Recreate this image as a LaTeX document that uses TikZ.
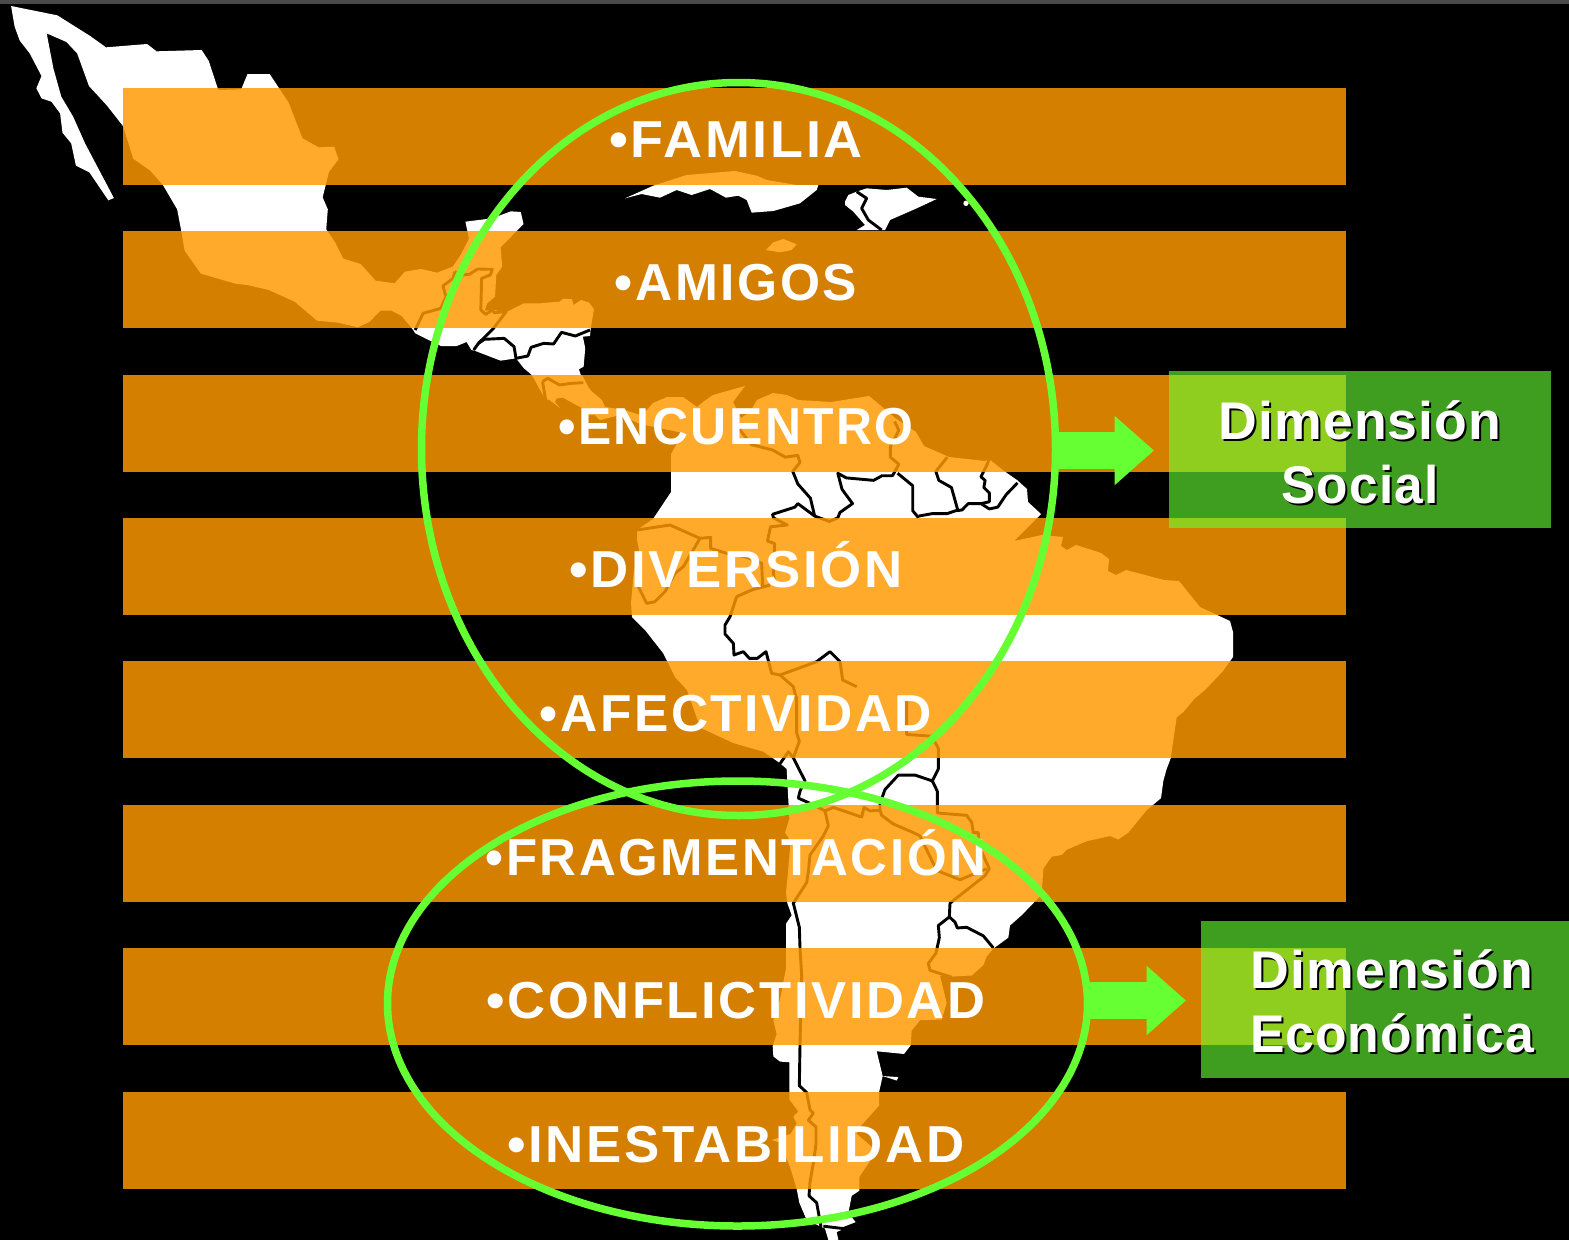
\documentclass[tikz,border=0pt]{standalone}
\usepackage{fontspec}
\usetikzlibrary{shapes.geometric,arrows.meta}
\newfontfamily\listfont{Liberation Sans}[LetterSpace=5.0]
\newfontfamily\dimfont{Liberation Sans}[LetterSpace=2.0]
\definecolor{baror}{HTML}{FF9900}
\definecolor{vivid}{HTML}{66FF33}
\definecolor{strip}{HTML}{4A4A4A}
\newcommand{\itemtext}[2]{\scalebox{#1}[1]{\listfont\bfseries\fontsize{52}{52}\selectfont\textbullet #2}}
\newcommand{\dimtext}[2]{\scalebox{#1}[1]{\dimfont\bfseries\fontsize{53}{53}\selectfont #2}}
\tikzset{
  land/.style={fill=white,draw=none},
  frontier/.style={draw=black,line width=2.9pt,line join=round,fill=none},
  orangebar/.style={fill=baror,fill opacity=.83,draw=none},
  item/.style={anchor=base,inner sep=0pt,outer sep=0pt,text=white},
  ring/.style={ellipse,draw=vivid,line width=7.5pt,fill=none,inner sep=0pt,outer sep=0pt},
  dimbox/.style={rectangle,fill=vivid,fill opacity=.62,draw=none,inner sep=0pt,outer sep=0pt},
  dimlabel/.style={anchor=base,inner sep=0pt,outer sep=0pt,text=white},
  dimshadow/.style={anchor=base,inner sep=0pt,outer sep=0pt,text=black},
  blockarrow/.style={draw=vivid,line width=37pt,-{Triangle[length=39.5pt,width=67pt]}},
  zoomA/.style={xscale=0.39541,yscale=0.33333},
  zoomB/.style={shift={(600,150)},xscale=0.42088,yscale=0.35714},
  zoomC/.style={shift={(700,700)},xscale=0.33333,yscale=0.34435},
  zoomD/.style={shift={(620,460)},xscale=0.33333,yscale=0.33333},
  zoomE/.style={shift={(610,165)},xscale=0.33333,yscale=0.33333}
}
\begin{document}
\begin{tikzpicture}[x=1pt,y=-1pt]
\useasboundingbox (0,0) rectangle (1569,1240);
\fill[black] (0,0) rectangle (1569,1240);
\fill[strip] (0,0) rectangle (1569,4);

% Mexico and Central America
\begin{scope}[zoomA]
\fill[land] (28,18)--(145,46)--(228,108)--(268,142)--(372,132)--(396,154)--(510,150)--(528,183)--(552,270)--(610,268)--(626,222)--(682,222)--(730,308)--(765,415)--(806,442)--(845,440)--(856,478)--(832,516)--(816,592)--(829,628)--(825,688)--(848,728)--(868,776)--(912,792)--(950,842)--(998,850)--(1024,815)--(1065,807)--(1105,818)--(1145,800)--(1165,765)--(1186,716)--(1177,665)--(1245,655)--(1292,634)--(1317,636)--(1324,672)--(1266,742)--(1270,800)--(1255,825)--(1252,890)--(1232,910)--(1226,932)--(1250,930)--(1278,938)--(1295,928)--(1325,910)--(1365,910)--(1415,905)--(1425,896)--(1447,898)--(1450,915)--(1470,900)--(1490,908)--(1502,928)--(1494,985)--(1492,1008)--(1474,1010)--(1480,1044)--(1476,1100)--(1464,1108)--(1473,1140)--(1500,1180)--(1380,1200)--(1345,1125)--(1325,1105)--(1305,1075)--(1266,1082)--(1200,1052)--(1192,1050)--(1180,1026)--(1155,1038)--(1115,1038)--(1050,1000)--(1045,990)--(1016,948)--(990,932)--(962,932)--(935,965)--(905,982)--(855,968)--(802,962)--(745,905)--(680,870)--(625,855)--(595,851)--(508,821)--(467,752)--(458,690)--(448,628)--(412,555)--(380,512)--(337,476)--(311,378)--(270,316)--(225,258)--(195,160)--(168,126)--(118,100)--(135,205)--(155,290)--(185,350)--(215,430)--(288,594)--(274,601)--(226,517)--(192,497)--(180,430)--(158,398)--(152,340)--(130,305)--(105,295)--(92,265)--(105,228)--(75,160)--(50,122)--(37,80)--cycle;
\end{scope}

% Panama and northern South America
\fill[land] (575,378)--(582,375)--(590,390)--(602,400)--(605,407)--(625,410)--(640,415)--(647,410)--(653,403)--(667,397)--(683,397)--(697,407)--(703,402)--(713,395)--(745,386)--(733,402)--(741,418)--(750,412)--(757,400)--(773,393)--(787,395)--(798,400)--(831,402)--(869,396)--(874,400)--(895,418)--(916,432)--(924,446)--(949,457)--(985,461)--(989,459)--(1004,471)--(1017,480)--(1027,489)--(1028,502)--(1041,514)--(1014,541)--(1042,535)--(1063,537)--(1061,546)--(1067,550)--(1076,545)--(1101,553)--(1109,559)--(1108,571)--(1116,575)--(1126,570)--(1164,580)--(1179,581)--(1200,607)--(1230,621)--(1233,632)--(1233,657)--(1223,671)--(1206,689)--(1193,700)--(1177,717)--(700,727)--(693,707)--(687,690)--(675,677)--(668,663)--(663,653)--(645,630)--(632,617)--(631,603)--(634,570)--(640,555)--(637,540)--(637,530)--(653,519)--(671,492)--(671,454)--(683,433)--(640,424)--(620,415)--(600,420)--(595,415)--(587,415)--(582,408)--(558,395)--(555,402)--(560,408)--(543,395)--(543,377)--cycle;

% Southern South America
\begin{scope}[zoomC]
\fill[land] (0,80)--(100,125)--(190,150)--(238,182)--(260,200)--(268,345)--(255,385)--(272,410)--(262,520)--(258,560)--(262,590)--(275,625)--(258,650)--(258,780)--(240,870)--(220,930)--(230,970)--(218,1005)--(220,1035)--(240,1050)--(268,1052)--(268,1160)--(295,1195)--(280,1210)--(290,1230)--(272,1260)--(215,1278)--(240,1285)--(270,1355)--(290,1420)--(298,1460)--(320,1510)--(375,1535)--(385,1568)--(415,1568)--(410,1545)--(470,1520)--(445,1490)--(455,1440)--(478,1425)--(478,1385)--(530,1310)--(470,1260)--(480,1240)--(537,1178)--(537,1140)--(548,1092)--(595,1095)--(590,1105)--(548,1092)--(530,1020)--(612,1028)--(632,1003)--(635,960)--(660,930)--(725,928)--(740,880)--(720,800)--(760,803)--(815,800)--(850,770)--(860,745)--(880,722)--(925,690)--(930,655)--(965,625)--(1000,590)--(1025,565)--(1030,490)--(1055,455)--(1085,450)--(1100,435)--(1160,410)--(1230,395)--(1255,405)--(1285,385)--(1340,320)--(1383,285)--(1390,235)--(1400,200)--(1412,170)--(1430,50)--(1450,35)--(1480,0)--(1400,-40)--(0,-10)--cycle;
\end{scope}

% Caribbean
\begin{scope}[zoomE]
\fill[land] (45,100)--(130,62)--(230,30)--(375,18)--(440,32)--(470,45)--(560,60)--(625,60)--(620,75)--(570,115)--(490,138)--(425,143)--(410,105)--(385,92)--(348,98)--(300,72)--(245,90)--(200,75)--(150,98)--(95,87)--cycle;
\fill[land] (705,110)--(715,90)--(740,80)--(770,70)--(830,75)--(890,68)--(925,95)--(980,102)--(920,130)--(840,165)--(825,195)--(740,195)--(765,180)--(730,140)--(705,120)--cycle;
\fill[land] (468,255)--(490,232)--(520,222)--(560,238)--(545,255)--(510,262)--cycle;
\fill[land] (1068,115) circle[radius=8];
\draw[frontier] (740,80)--(770,100)--(755,130)--(775,165)--(815,195);
\end{scope}

% Frontiers of Central America
\begin{scope}[zoomA]
\draw[frontier] (1150,815)--(1146,835)--(1120,858)--(1128,890)--(1115,925)--(1070,940)--(1050,990);
\draw[frontier] (1150,815)--(1170,825)--(1187,823)--(1208,807)--(1245,808)--(1240,825)--(1218,835)--(1216,930)--(1228,943)--(1245,930)--(1250,938)--(1280,935)--(1248,985)--(1210,1030)--(1198,1050);
\draw[frontier] (1210,1030)--(1225,1018)--(1275,1015)--(1300,1040)--(1305,1075)--(1335,1068)--(1343,1042)--(1375,1030)--(1400,1032)--(1420,997)--(1455,1008)--(1492,990);
\draw[frontier] (1372,1145)--(1385,1135)--(1415,1155)--(1445,1150)--(1475,1148);
\draw[frontier] (1372,1145)--(1380,1200);
\end{scope}

% Frontiers of northern South America
\begin{scope}[zoomB]
\draw[frontier] (330,780)--(360,825)--(410,840)--(440,860)--(470,855)--(475,875)--(458,900)--(470,935)--(500,975)--(510,1025)--(545,1040)--(565,1030)--(570,1015)--(600,990)--(575,950)--(565,905)--(585,918)--(650,925)--(670,912)--(695,912)--(710,880)--(690,860)--(690,830)--(710,785)--(700,760);
\draw[frontier] (707,905)--(743,940)--(743,1010)--(757,1030);
\draw[frontier] (757,1025)--(790,1018)--(825,1018)--(845,1010)--(860,1008)--(875,990)--(905,990)--(925,1005)--(945,1000)--(965,965)--(992,932);
\draw[frontier] (825,860)--(798,900)--(805,925)--(835,945)--(850,1008);
\draw[frontier] (925,865)--(918,885)--(905,915)--(915,925)--(912,945)--(925,960)--(925,985)--(905,990);
\draw[frontier] (510,1025)--(470,990)--(463,1000)--(410,1020)--(412,1030)--(445,1050)--(405,1055)--(398,1095)--(415,1102)--(412,1180)--(415,1215);
\end{scope}
\begin{scope}[zoomD]
\draw[frontier] (50,210)--(150,195)--(240,235)--(272,232)--(272,265)--(320,280)--(375,290)--(425,310)--(428,380);
\draw[frontier] (55,380)--(80,430)--(105,425)--(135,395)--(165,340)--(190,320)--(240,235);
\draw[frontier] (450,375)--(395,390)--(350,410)--(330,470)--(315,495)--(315,522)--(340,550)--(342,585)--(370,575)--(388,595)--(412,595)--(438,575)--(455,640)--(480,645)--(590,605)--(630,575)--(660,605)--(668,660)--(710,680);
\draw[frontier] (480,645)--(520,680)--(530,720);
\end{scope}

% Frontiers of southern South America
\begin{scope}[zoomC]
\draw[frontier] (290,-10)--(290,95)--(298,120)--(280,168)--(265,150)--(240,185);
\draw[frontier] (280,168)--(315,235)--(300,265)--(295,285)--(330,300)--(375,322)--(385,365)--(370,395)--(330,450)--(325,500)--(320,530)--(280,590)--(298,660)--(300,720)--(305,800)--(300,1000)--(298,1120)--(320,1140)--(330,1190)--(340,1200)--(325,1220)--(348,1240)--(348,1290)--(340,1345)--(330,1400)--(327,1440)--(350,1460)--(363,1530);
\draw[frontier] (375,322)--(400,312)--(440,325)--(485,340)--(492,312)--(510,322)--(540,320)--(545,335)--(580,360)--(640,385)--(660,395)--(710,495)--(780,522)--(860,490);
\draw[frontier] (540,320)--(540,300)--(555,260)--(595,218)--(645,218)--(697,235)--(715,200)--(715,140)--(695,105)--(620,100)--(620,0);
\draw[frontier] (697,235)--(712,265)--(712,328)--(800,335)--(815,355)--(820,385)--(835,385)--(835,420)--(868,490)--(855,510)--(750,590)--(748,630)--(715,655)--(718,690)--(708,735)--(685,765)--(690,785)--(755,805);
\draw[frontier] (748,630)--(765,645)--(772,662)--(800,660)--(850,685)--(880,720);
\draw[frontier] (370,1528)--(430,1535)--(470,1520);
\end{scope}

% Orange bands
\foreach \ytop in {88.4,231.4,375.4,518.4,661.4,805.4,948.4,1092.4}
  \fill[orangebar] (123,\ytop) rectangle (1345.6,\ytop+97);

% Items
\node[item] (familia) at (736,157) {\itemtext{1.037}{FAMILIA}};
\node[item] (amigos) at (736,300) {\itemtext{0.99}{AMIGOS}};
\node[item] (encuentro) at (736,444) {\itemtext{0.959}{ENCUENTRO}};
\node[item] (diversion) at (736,587) {\itemtext{1.015}{DIVERSIÓN}};
\node[item] (afectividad) at (736,731) {\itemtext{0.99}{AFECTIVIDAD}};
\node[item] (fragmentacion) at (736,875) {\itemtext{0.98}{FRAGMENTACIÓN}};
\node[item] (conflictividad) at (736,1018) {\itemtext{1.01}{CONFLICTIVIDAD}};
\node[item] (inestabilidad) at (736,1162) {\itemtext{1.016}{INESTABILIDAD}};

% Green boxes
\node[dimbox,minimum width=382pt,minimum height=156.5pt] (boxsocial) at (1360,449.3) {};
\node[dimbox,minimum width=369pt,minimum height=157pt] (boxecon) at (1385,999) {};

% Rings and arrows
\node[ring,minimum width=634pt,minimum height=733pt] (ringsocial) at (738.5,449) {};
\node[ring,minimum width=700pt,minimum height=445pt] (ringecon) at (737.5,1003.5) {};
\coordinate (tipsocial) at (1154,450.5);
\coordinate (tipecon) at (1186,1000.5);
\draw[blockarrow] (ringsocial.east |- tipsocial) -- (tipsocial);
\draw[blockarrow] (ringecon.east |- tipecon) -- (tipecon);

% Box labels with their shadow
\node[dimshadow] (s1s) at (1362,441) {\dimtext{1.012}{Dimensión}};
\node[dimlabel] (s1) at (1360,439) {\dimtext{1.012}{Dimensión}};
\node[dimshadow] (s2s) at (1362,505) {\dimtext{0.97}{Social}};
\node[dimlabel] (s2) at (1360,503) {\dimtext{0.97}{Social}};
\node[dimshadow] (e1s) at (1394,990) {\dimtext{1.012}{Dimensión}};
\node[dimlabel] (e1) at (1392,988) {\dimtext{1.012}{Dimensión}};
\node[dimshadow] (e2s) at (1394,1054) {\dimtext{0.975}{Económica}};
\node[dimlabel] (e2) at (1392,1052) {\dimtext{0.975}{Económica}};
\end{tikzpicture}
\end{document}
